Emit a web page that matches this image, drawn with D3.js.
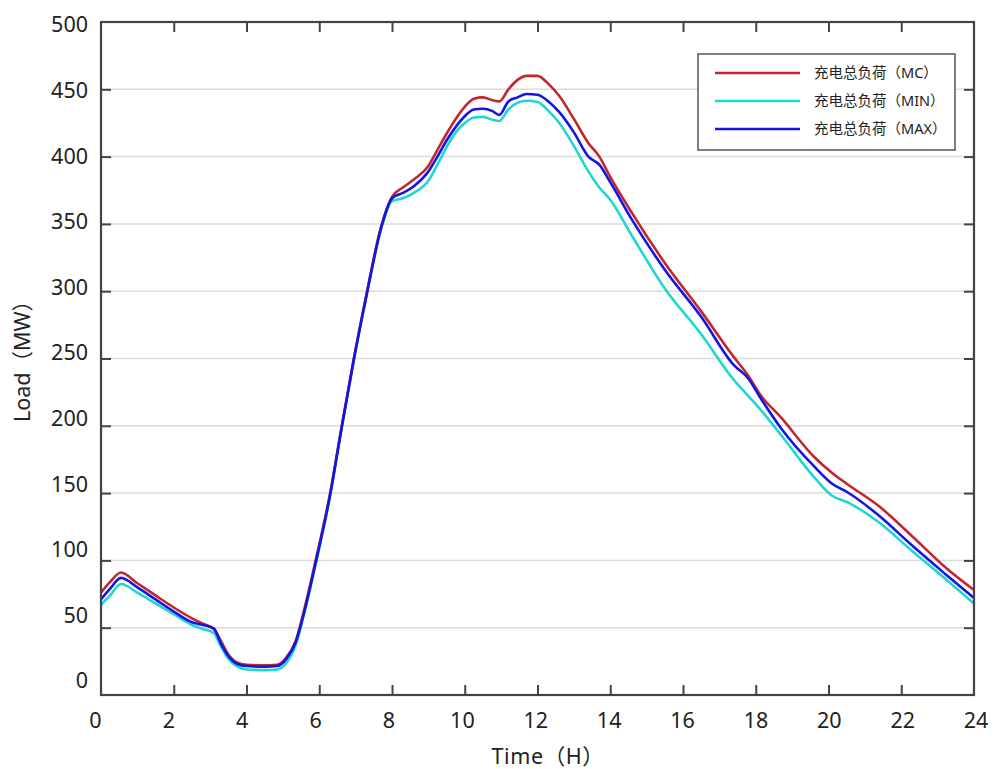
<!DOCTYPE html>
<html>
<head>
	<meta charset="utf-8">
	<script src="https://cdnjs.cloudflare.com/ajax/libs/d3/7.8.2/d3.min.js"></script>
	<style>
		body {
			margin: 0 ;
			background: white ;
		}
		svg text {
			font-family: "Noto Sans", "Noto Sans CJK SC", sans-serif ;
			fill: #222 ;
		}
	</style>
</head>
<body>
	<svg id="canvas"></svg>
</body>
<script>
	let hours = [0, 0.25, 0.55, 1, 1.5, 2, 2.5, 2.8, 3.1, 3.3, 3.5, 3.75, 4, 4.5, 4.85, 5.1, 5.35, 5.6, 5.9,
		6.3, 6.6, 6.95, 7.3, 7.7, 8.0, 8.3, 8.6, 9.0, 9.25, 9.5, 9.75, 10.0, 10.25, 10.5, 10.75, 10.95,
		11.2, 11.45, 11.7, 12.0, 12.3, 12.6, 13.0, 13.4, 13.7, 14.0, 14.6, 15.5, 16.5, 17.4, 17.8, 18.1,
		18.7, 19.6, 20.1, 20.5, 21.4, 22.3, 23.25, 24] ;

	let load_mc = [76, 84, 91, 83, 74, 65, 57, 53, 49, 40, 30, 24, 22.5, 22, 22.5, 28, 40, 65, 100,
		150, 197, 250, 298, 348, 370, 377, 383, 393, 405, 417, 428, 437, 443, 444, 442, 441,
		450, 457, 460, 460, 454, 445, 428, 410, 400, 385, 358, 321, 285, 251, 237, 224,
		206, 177, 165, 157, 140, 118, 94, 78] ;

	let load_min = [67, 74, 82.5, 76, 68, 60, 52, 49, 46, 36, 27, 21, 19, 18.5, 19, 24, 37, 62, 97,
		148, 196, 249, 297, 346, 367, 369, 373, 382, 394, 407, 418, 425, 429, 429.5, 427.5, 426.5,
		435, 440, 441.5, 440.5, 434, 425, 408, 389, 377, 368, 341, 302, 268, 234, 222, 213,
		193, 162, 148, 143.5, 128, 107, 85.5, 68] ;

	let load_max = [71, 79, 87, 80, 71, 62, 54, 52, 49.5, 38, 29, 23, 21.5, 21, 21.5, 27, 39, 63, 98,
		149, 196, 249, 297, 347, 369, 373, 378, 389, 400, 412, 422, 430, 435, 435.5, 434, 431,
		441, 444, 446.5, 446, 441, 433, 418, 400, 394, 381, 353, 316, 281, 245, 235, 222,
		198, 170, 157, 151, 133, 111, 89, 72] ;

	let series_names = ["充电总负荷（MC）", "充电总负荷（MIN）", "充电总负荷（MAX）"] ;
	let series_colors = ["#c1272d", "#1fd6d2", "#1414e6"] ;

	let x_ticks = [0, 2, 4, 6, 8, 10, 12, 14, 16, 18, 20, 22, 24] ;
	let y_ticks = [0, 50, 100, 150, 200, 250, 300, 350, 400, 450, 500] ;
</script>
<script>
	let geom = {
		width: 995,
		height: 769,
		margin: {
			left: 101,
			right: 21,
			top: 22,
			bottom: 74
		}
	} ;
	let scales = {
		x: d3.scaleLinear()
			.domain( [0, 24] )
			.range( [ geom.margin.left, geom.width - geom.margin.right ] ),
		y: d3.scaleLinear()
			.domain( [0, 500] )
			.range( [ geom.height - geom.margin.bottom, geom.margin.top ] ),
		// the tick labels sit a little closer together than the ticks themselves
		ylabel: d3.scaleLinear()
			.domain( [0, 500] )
			.range( [ 681, 25 ] )
	} ;

	let svg = d3.select( 'svg' )
		.attr( 'width', geom.width )
		.attr( 'height', geom.height ) ;

	let x0 = scales.x.range()[0], x1 = scales.x.range()[1] ;
	let y0 = scales.y.range()[0], y1 = scales.y.range()[1] ;

	// horizontal grid
	svg.append( 'g' )
		.selectAll( 'line' )
		.data( y_ticks.filter( d => d > 0 && d < 500 ) )
		.join( 'line' )
		.attr( 'x1', x0 )
		.attr( 'x2', x1 )
		.attr( 'y1', d => scales.y(d) )
		.attr( 'y2', d => scales.y(d) )
		.attr( 'stroke', '#dcdcdc' )
		.attr( 'stroke-width', 1.5 ) ;

	// curves
	let lines = [load_mc, load_min, load_max] ;
	let lf = d3.line()
		.x( (d, i) => scales.x( hours[i] ) )
		.y( d => scales.y( d ) )
		.curve( d3.curveMonotoneX ) ;

	svg.append( 'g' )
		.selectAll( 'path' )
		.data( [1, 0, 2] )
		.join( 'path' )
		.attr( 'd', k => lf( lines[k] ) )
		.attr( 'fill', 'none' )
		.attr( 'stroke', k => series_colors[k] )
		.attr( 'stroke-width', 2.6 )
		.attr( 'stroke-linejoin', 'round' ) ;

	// axes, ticks pointing inwards on all four sides
	let styleAxis = function( g ) {
		g.select( '.domain' ).remove() ;
		g.selectAll( '.tick line' )
			.attr( 'stroke', '#444' )
			.attr( 'stroke-width', 2 ) ;
		g.selectAll( '.tick text' )
			.attr( 'font-size', 21.5 )
			.attr( 'fill', '#222' ) ;
	} ;

	let xaxis = svg.append( 'g' )
		.attr( 'transform', 'translate(0,' + y0 + ')' )
		.call( d3.axisBottom( scales.x ).tickValues( x_ticks ).tickSizeInner( -10 ).tickSizeOuter( 0 ).tickPadding( 18 ) )
		.call( styleAxis ) ;
	xaxis.selectAll( '.tick' ).filter( d => d == 0 || d == 24 ).select( 'line' ).remove() ;
	xaxis.selectAll( '.tick text' ).attr( 'dx', d => (d - 19) * 0.32 ) ;

	let xaxis_top = svg.append( 'g' )
		.attr( 'transform', 'translate(0,' + y1 + ')' )
		.call( d3.axisTop( scales.x ).tickValues( x_ticks.filter( d => d > 0 && d < 24 ) ).tickSizeInner( -10 ).tickSizeOuter( 0 ).tickFormat( '' ) )
		.call( styleAxis ) ;

	let yaxis = svg.append( 'g' )
		.attr( 'transform', 'translate(' + x0 + ',0)' )
		.call( d3.axisLeft( scales.y ).tickValues( y_ticks ).tickSizeInner( -10 ).tickSizeOuter( 0 ).tickPadding( 13 ) )
		.call( styleAxis ) ;
	yaxis.selectAll( '.tick' ).filter( d => d == 0 || d == 500 ).select( 'line' ).remove() ;
	yaxis.selectAll( '.tick text' )
		.attr( 'y', d => scales.ylabel(d) - scales.y(d) ) ;

	let yaxis_right = svg.append( 'g' )
		.attr( 'transform', 'translate(' + x1 + ',0)' )
		.call( d3.axisRight( scales.y ).tickValues( y_ticks.filter( d => d > 0 && d < 500 ) ).tickSizeInner( -10 ).tickSizeOuter( 0 ).tickFormat( '' ) )
		.call( styleAxis ) ;

	// frame
	svg.append( 'rect' )
		.attr( 'x', x0 )
		.attr( 'y', y1 )
		.attr( 'width', x1 - x0 )
		.attr( 'height', y0 - y1 )
		.attr( 'fill', 'none' )
		.attr( 'stroke', '#444' )
		.attr( 'stroke-width', 2.2 ) ;

	// axis titles
	svg.append( 'text' )
		.attr( 'x', 548 )
		.attr( 'y', 764 )
		.attr( 'text-anchor', 'middle' )
		.attr( 'font-size', 21.5 )
		.attr( 'letter-spacing', 0.6 )
		.text( 'Time（H）' ) ;

	svg.append( 'text' )
		.attr( 'transform', 'translate(30,356) rotate(-90)' )
		.attr( 'text-anchor', 'middle' )
		.attr( 'font-size', 21.5 )
		.text( 'Load（MW）' ) ;

	// legend
	let legend = svg.append( 'g' )
		.attr( 'transform', 'translate(698,54)' ) ;
	legend.append( 'rect' )
		.attr( 'width', 257 )
		.attr( 'height', 96 )
		.attr( 'fill', 'white' )
		.attr( 'stroke', '#555' )
		.attr( 'stroke-width', 1.5 ) ;
	let item = legend.selectAll( 'g.item' )
		.data( series_names )
		.join( 'g' )
		.attr( 'class', 'item' )
		.attr( 'transform', (d, i) => 'translate(0,' + (19 + i * 28) + ')' ) ;
	item.append( 'line' )
		.attr( 'x1', 17 )
		.attr( 'x2', 102 )
		.attr( 'stroke', (d, i) => series_colors[i] )
		.attr( 'stroke-width', 2.6 ) ;
	item.append( 'text' )
		.attr( 'x', 116 )
		.attr( 'dy', '0.36em' )
		.attr( 'font-size', 14.5 )
		.text( d => d ) ;
</script>
</html>
